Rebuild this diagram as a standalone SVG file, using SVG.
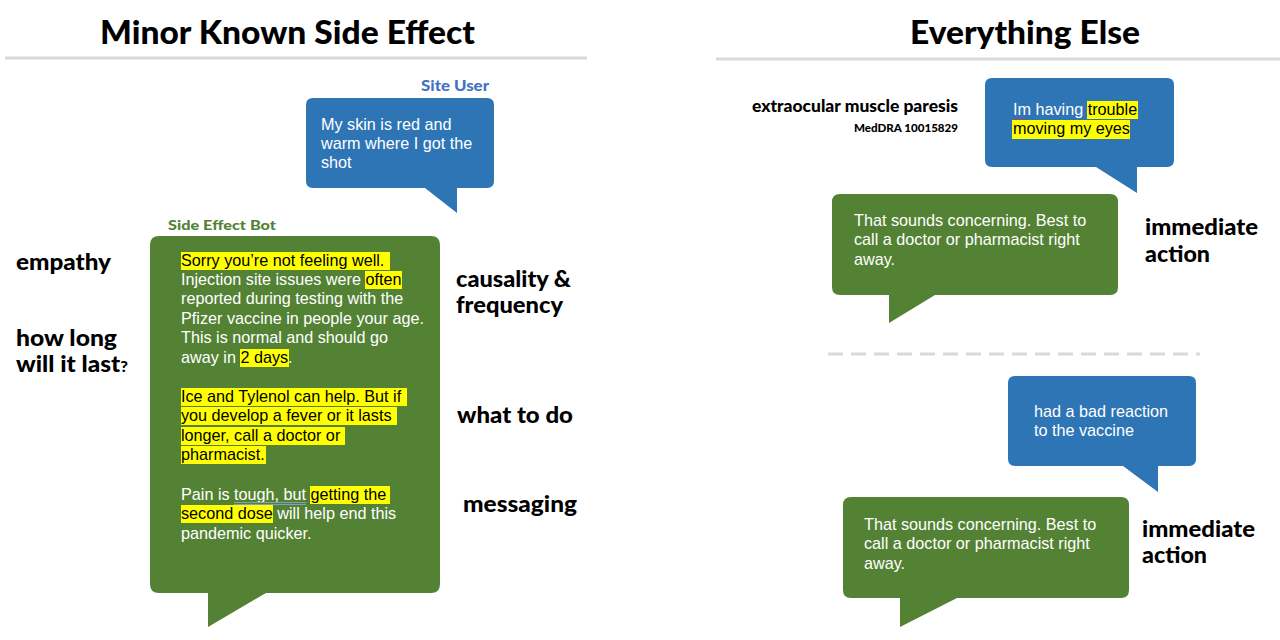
<svg xmlns="http://www.w3.org/2000/svg" width="1280" height="640" viewBox="0 0 1280 640">
<style>
.head{font-family:Lato,"DejaVu Sans",sans-serif;font-weight:900;font-size:33px;fill:#000}
.lab{font-family:Lato,"DejaVu Sans",sans-serif;font-weight:900;font-size:22px;fill:#000}
.body{font-family:"Liberation Sans",Arial,sans-serif;font-size:16.2px;fill:#fff}
.hl{fill:#000}
.yel{fill:#ffff00}
.blue{fill:#2e75b6}
.green{fill:#548235}
.rule{stroke:#d9d9d9;stroke-width:3;fill:none}
</style>
<rect width="1280" height="640" fill="#fff"/>

<g id="dividers">
<line class="rule" x1="5" y1="58" x2="587" y2="58"/>
<line class="rule" x1="716" y1="59" x2="1280" y2="59"/>
<line class="rule" x1="828" y1="354" x2="1200" y2="354" stroke-dasharray="15 8"/>
</g>
<g id="connectors"></g>

<g id="title-left"><text class="head" x="100" y="44" textLength="375" lengthAdjust="spacingAndGlyphs">Minor Known Side Effect</text></g>
<g id="title-right"><text class="head" x="910" y="44" textLength="230" lengthAdjust="spacingAndGlyphs">Everything Else</text></g>

<g id="site-user">
<text x="489" y="91" text-anchor="end" font-family="Lato,'DejaVu Sans',sans-serif" font-weight="900" font-size="15" fill="#4472c4" textLength="68" lengthAdjust="spacingAndGlyphs">Site User</text>
<path class="blue" d="M313,98 H487 Q494,98 494,105 V181 Q494,188 487,188 H457 V213 L425,188 H313 Q306,188 306,181 V105 Q306,98 313,98 Z"/>
<text class="body" x="321" y="130">My skin is red and</text>
<text class="body" x="321" y="149">warm where I got the</text>
<text class="body" x="321" y="168">shot</text>
</g>

<g id="side-effect-bot">
<text x="168" y="230" font-family="Lato,'DejaVu Sans',sans-serif" font-weight="900" font-size="14" fill="#548235" textLength="108" lengthAdjust="spacingAndGlyphs">Side Effect Bot</text>
<path class="green" d="M159,236 H431 Q440,236 440,245 V584 Q440,593 431,593 H266 L208,627 V593 H159 Q150,593 150,584 V245 Q150,236 159,236 Z"/>
<rect class="yel" x="181" y="252" width="209" height="18"/>
<rect class="yel" x="365" y="271" width="37" height="18"/>
<rect class="yel" x="240" y="349" width="49" height="18"/>
<rect class="yel" x="181" y="388" width="226" height="18"/>
<rect class="yel" x="181" y="407" width="216" height="18"/>
<rect class="yel" x="181" y="427" width="164" height="18"/>
<rect class="yel" x="181" y="446" width="85" height="18"/>
<rect class="yel" x="310" y="486" width="80" height="18"/>
<rect class="yel" x="181" y="505" width="92" height="18"/>
<text class="body" x="181" y="266"><tspan class="hl">Sorry you’re not feeling well.</tspan></text>
<text class="body" x="181" y="285">Injection site issues were <tspan class="hl">often</tspan></text>
<text class="body" x="181" y="304">reported during testing with the</text>
<text class="body" x="181" y="324">Pfizer vaccine in people your age.</text>
<text class="body" x="181" y="343">This is normal and should go</text>
<text class="body" x="181" y="363">away in <tspan class="hl">2 days</tspan>.</text>
<text class="body hl" x="181" y="402">Ice and Tylenol can help. But if</text>
<text class="body hl" x="181" y="421">you develop a fever or it lasts</text>
<text class="body hl" x="181" y="441">longer, call a doctor or</text>
<text class="body hl" x="181" y="460">pharmacist.</text>
<text class="body" x="181" y="500">Pain is tough, but <tspan class="hl">getting the</tspan></text>
<text class="body" x="181" y="519"><tspan class="hl">second dose</tspan> will help end this</text>
<text class="body" x="181" y="539">pandemic quicker.</text>
<line x1="234" y1="502.5" x2="306" y2="502.5" stroke="#7f9fc6" stroke-width="1"/>
<line x1="234" y1="504.5" x2="306" y2="504.5" stroke="#7f9fc6" stroke-width="1"/>
</g>

<g id="labels-left">
<text class="lab" x="16" y="270" textLength="95" lengthAdjust="spacingAndGlyphs">empathy</text>
<text class="lab" x="16" y="346" textLength="101" lengthAdjust="spacingAndGlyphs">how long</text>
<text class="lab" x="16" y="372" textLength="112" lengthAdjust="spacingAndGlyphs">will it last<tspan font-size="15">?</tspan></text>
<text class="lab" x="456" y="287" textLength="115" lengthAdjust="spacingAndGlyphs">causality &amp;</text>
<text class="lab" x="456" y="313" textLength="107" lengthAdjust="spacingAndGlyphs">frequency</text>
<text class="lab" x="457" y="423" textLength="116" lengthAdjust="spacingAndGlyphs">what to do</text>
<text class="lab" x="463" y="512" textLength="114" lengthAdjust="spacingAndGlyphs">messaging</text>
</g>

<g id="meddra-term">
<text x="958" y="112" text-anchor="end" font-family="Lato,'DejaVu Sans',sans-serif" font-weight="900" font-size="16" textLength="206" lengthAdjust="spacingAndGlyphs">extraocular muscle paresis</text>
<text x="958" y="132" text-anchor="end" font-family="Lato,'DejaVu Sans',sans-serif" font-weight="900" font-size="11" textLength="104" lengthAdjust="spacingAndGlyphs">MedDRA 10015829</text>
</g>

<g id="user-eyes">
<path class="blue" d="M992,78 H1167 Q1174,78 1174,85 V160 Q1174,167 1167,167 H1137 V193 L1096,167 H992 Q985,167 985,160 V85 Q985,78 992,78 Z"/>
<rect class="yel" x="1087" y="101" width="51" height="18"/>
<rect class="yel" x="1012" y="120" width="118" height="19"/>
<text class="body" x="1013" y="115">Im having <tspan class="hl">trouble</tspan></text>
<text class="body hl" x="1013" y="134">moving my eyes</text>
<path d="M1013,118.5 l1.5,1.5 l1.5,-1.5 l1.5,1.5 l1.5,-1.5 l1.5,1.5 l1.5,-1.5 l1.5,1.5 l1.5,-1.5 l1.5,1.5" stroke="#e03030" stroke-width="0.8" fill="none"/>
</g>

<g id="bot-reply-1">
<path class="green" d="M840,194 H1110 Q1118,194 1118,202 V287 Q1118,295 1110,295 H935 L889,323 V295 H840 Q832,295 832,287 V202 Q832,194 840,194 Z"/>
<text class="body" x="854" y="226">That sounds concerning. Best to</text>
<text class="body" x="854" y="245">call a doctor or pharmacist right</text>
<text class="body" x="854" y="265">away.</text>
</g>
<g id="label-immediate-1">
<text class="lab" x="1145" y="235" textLength="113" lengthAdjust="spacingAndGlyphs">immediate</text>
<text class="lab" x="1145" y="262" textLength="65" lengthAdjust="spacingAndGlyphs">action</text>
</g>

<g id="user-reaction">
<path class="blue" d="M1015,376 H1189 Q1196,376 1196,383 V459 Q1196,466 1189,466 H1158 V492 L1123,466 H1015 Q1008,466 1008,459 V383 Q1008,376 1015,376 Z"/>
<text class="body" x="1034" y="417">had a bad reaction</text>
<text class="body" x="1034" y="436">to the vaccine</text>
</g>

<g id="bot-reply-2">
<path class="green" d="M851,497 H1121 Q1129,497 1129,505 V590 Q1129,598 1121,598 H957 L900,627 V598 H851 Q843,598 843,590 V505 Q843,497 851,497 Z"/>
<text class="body" x="864" y="530">That sounds concerning. Best to</text>
<text class="body" x="864" y="549">call a doctor or pharmacist right</text>
<text class="body" x="864" y="569">away.</text>
</g>
<g id="label-immediate-2">
<text class="lab" x="1142" y="537" textLength="113" lengthAdjust="spacingAndGlyphs">immediate</text>
<text class="lab" x="1142" y="563" textLength="65" lengthAdjust="spacingAndGlyphs">action</text>
</g>
</svg>
